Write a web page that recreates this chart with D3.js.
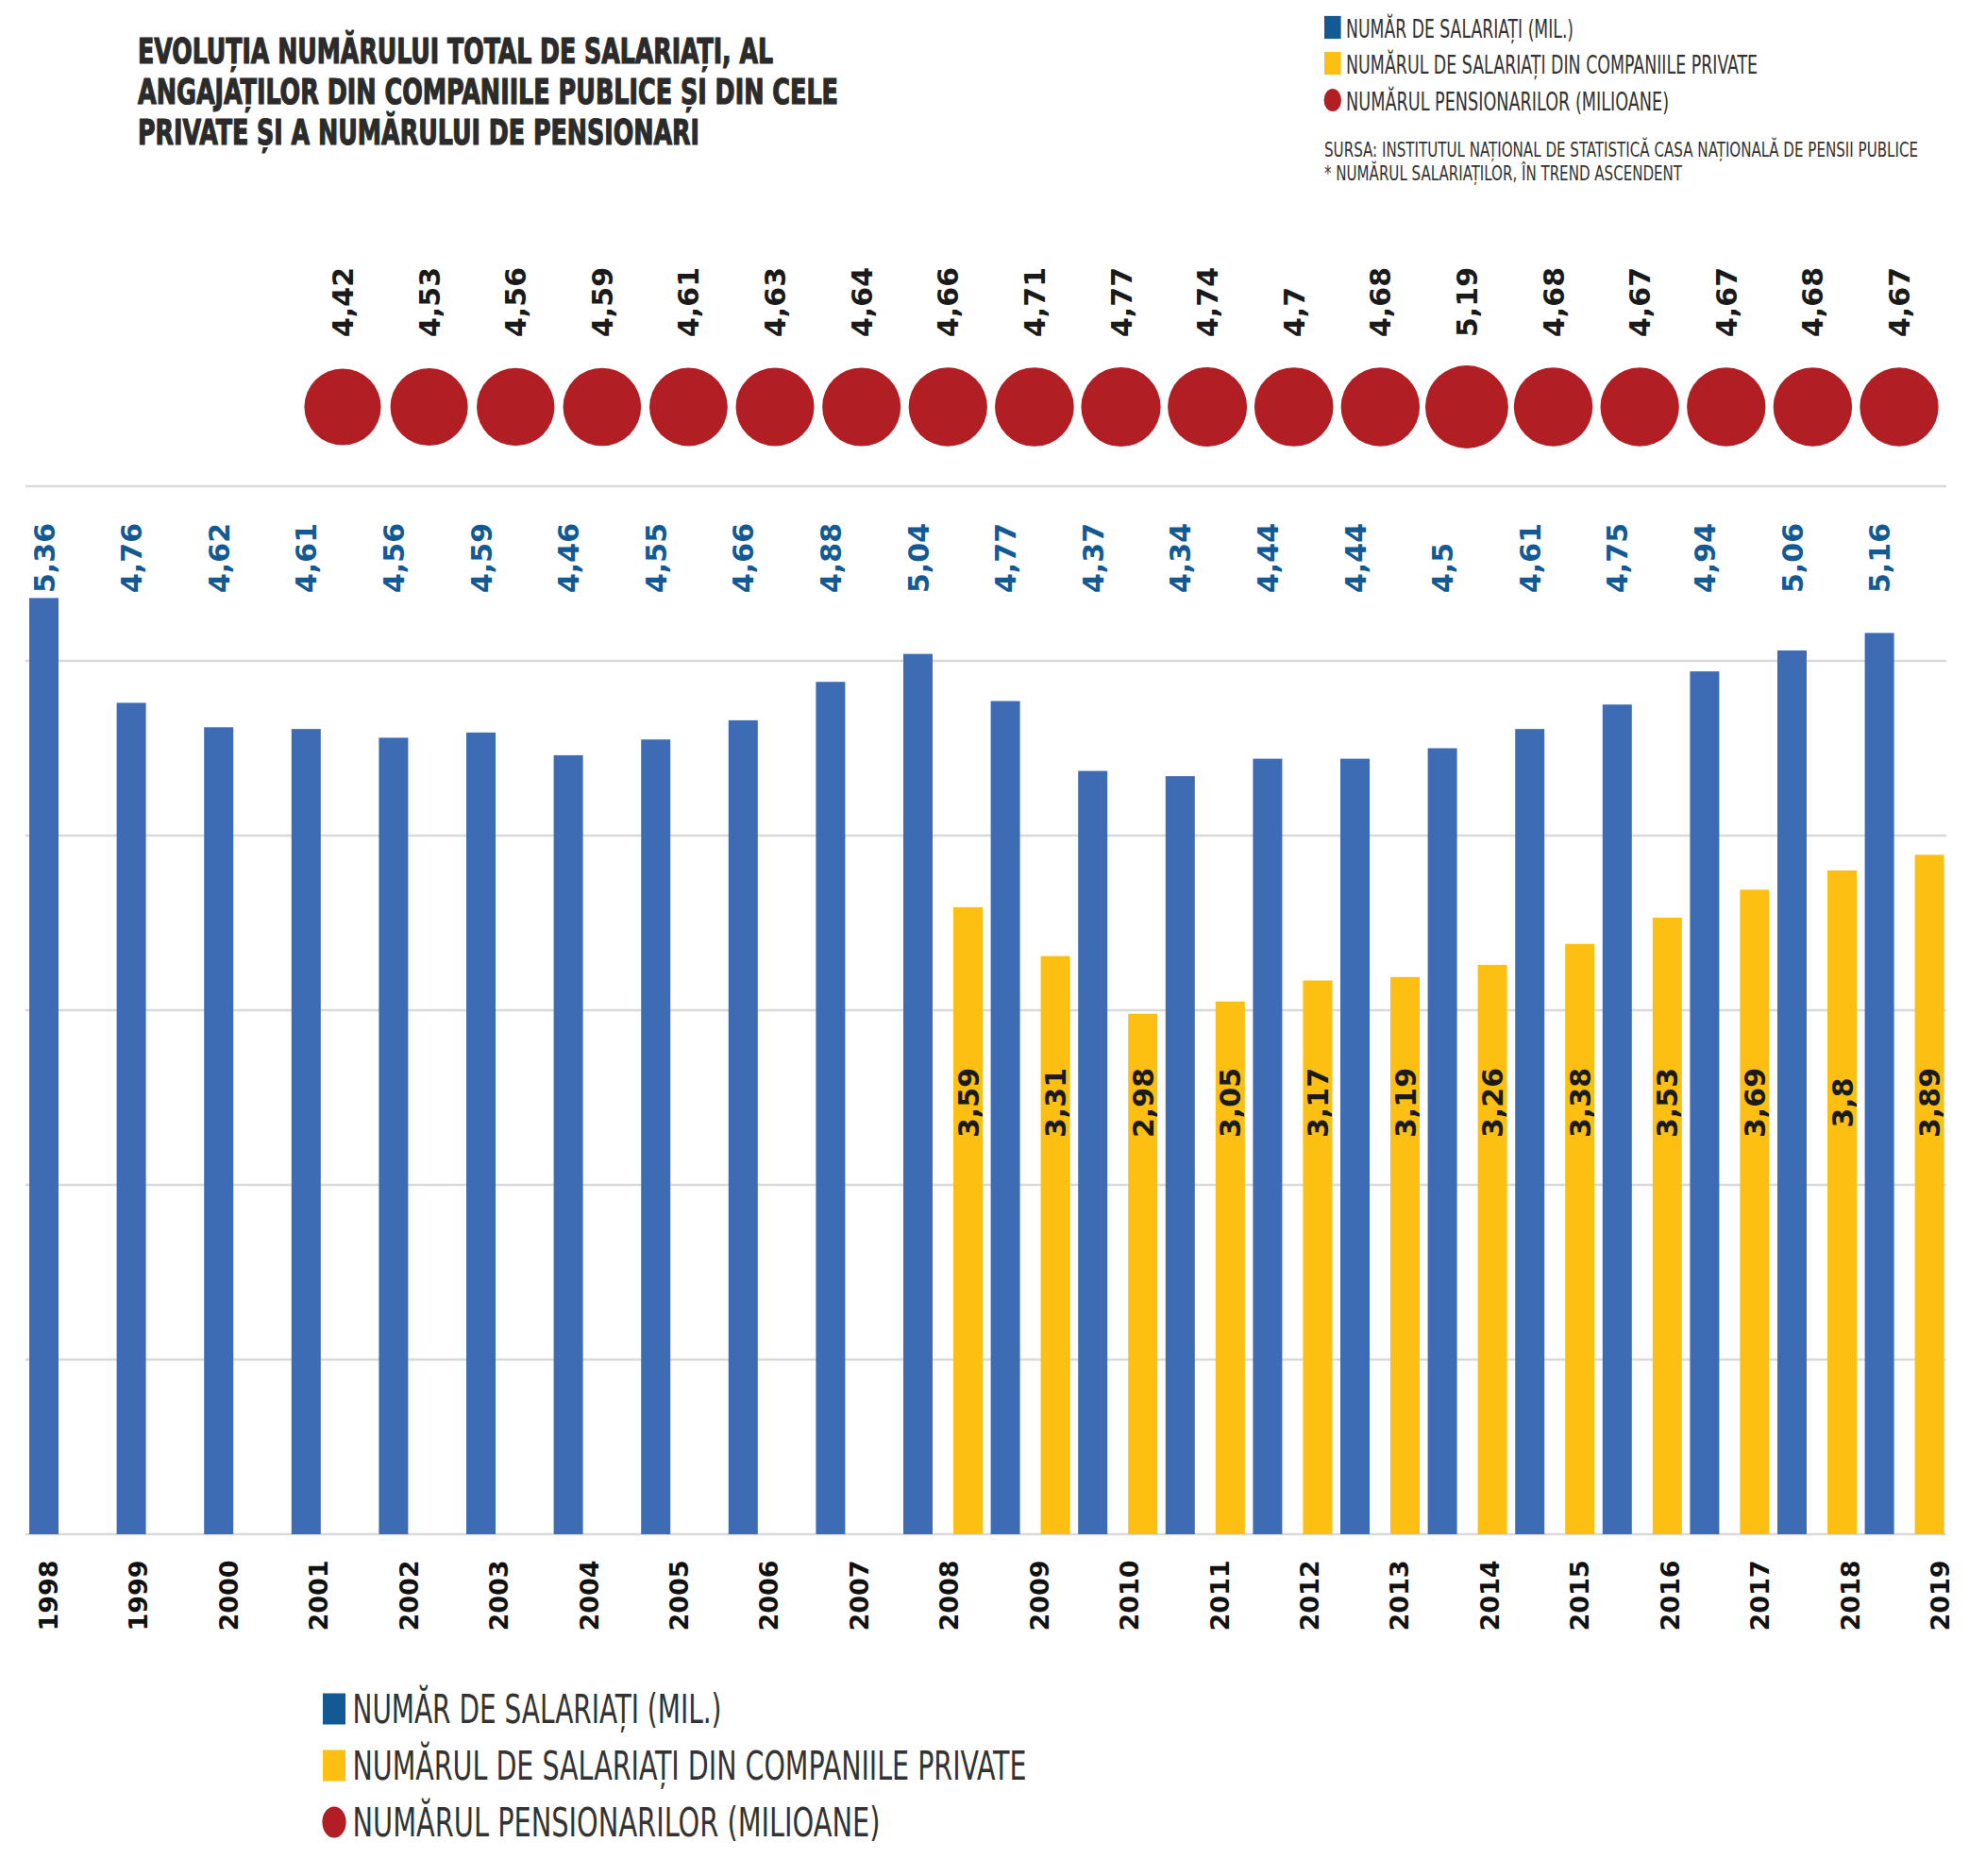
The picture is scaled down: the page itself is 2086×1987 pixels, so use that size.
<!DOCTYPE html>
<html>
<head>
<meta charset="utf-8">
<script src="https://cdn.jsdelivr.net/npm/d3@7"></script>
<style>
body { margin: 0; background: #fff; }
</style>
</head>
<body>
<div id="chart"></div>
<script>
// Data
const years = d3.range(1998, 2020);
const totalEmployees = [5.36, 4.76, 4.62, 4.61, 4.56, 4.59, 4.46, 4.55, 4.66, 4.88, 5.04,
    4.77, 4.37, 4.34, 4.44, 4.44, 4.5, 4.61, 4.75, 4.94, 5.06, 5.16];
const privateYears = d3.range(2008, 2020);
const privateEmployees = [3.59, 3.31, 2.98, 3.05, 3.17, 3.19, 3.26, 3.38, 3.53, 3.69, 3.8, 3.89];
const pensionYears = d3.range(2001, 2020);
const pensioners = [4.42, 4.53, 4.56, 4.59, 4.61, 4.63, 4.64, 4.66, 4.71, 4.77, 4.74, 4.7,
    4.68, 5.19, 4.68, 4.67, 4.67, 4.68, 4.67];
const gridTicks = [0, 1, 2, 3, 4, 5, 6];
const titleLines = ["EVOLUȚIA NUMĂRULUI TOTAL DE SALARIAȚI, AL",
    "ANGAJAȚILOR DIN COMPANIILE PUBLICE ȘI DIN CELE",
    "PRIVATE ȘI A NUMĂRULUI DE PENSIONARI"];
const legendLabels = ["NUMĂR DE SALARIAȚI (MIL.)",
    "NUMĂRUL DE SALARIAȚI DIN COMPANIILE PRIVATE",
    "NUMĂRUL PENSIONARILOR (MILIOANE)"];
const sourceLines = ["SURSA: INSTITUTUL NAȚIONAL DE STATISTICĂ  CASA NAȚIONALĂ DE PENSII PUBLICE",
    "* NUMĂRUL SALARIAȚILOR, ÎN TREND ASCENDENT"];

const W = 2086, H = 1987;
const BLUE = "#3d6bb4", YELLOW = "#fcbf12", RED = "#b11f24", LEGBLUE = "#135a94";
const NARROW = "'Liberation Sans Narrow', 'DejaVu Sans Condensed', sans-serif";

const svg = d3.select("#chart").append("svg")
    .attr("width", W).attr("height", H);

// Scales
const y = d3.scaleLinear().domain([0, 6]).range([1625, 515]);
const x = d3.scaleBand().domain(years).range([30, 30 + 22 * 92.6]);
const xTick = d3.scalePoint().domain(years).range([51, 2055]);
const xPension = d3.scalePoint().domain(pensionYears).range([363, 2012]);
const rScale = d3.scaleLinear().domain([4.4, 5.2]).range([40.5, 44]);
const barW = 31;

// Gridlines
svg.selectAll(".grid")
    .data(gridTicks)
    .join("line")
    .attr("class", "grid")
    .attr("x1", 27).attr("x2", 2062)
    .attr("y1", d => y(d)).attr("y2", d => y(d))
    .style("stroke", "#d9d9d9")
    .style("stroke-width", 2.5);

// Blue bars
svg.selectAll(".bar-total")
    .data(years.map((yr, i) => ({ yr, v: totalEmployees[i] })))
    .join("rect")
    .attr("class", "bar-total")
    .attr("x", d => x(d.yr) + 1)
    .attr("y", d => y(d.v))
    .attr("width", barW)
    .attr("height", d => y(0) - y(d.v))
    .style("fill", BLUE);

svg.selectAll(".label-total")
    .data(years.map((yr, i) => ({ yr, v: totalEmployees[i] })))
    .join("text")
    .attr("class", "label-total")
    .attr("transform", d => `translate(${x(d.yr) + 1 + barW / 2 + 11},628) rotate(-90)`)
    .style("font-family", "'DejaVu Sans', sans-serif")
    .style("font-weight", "bold")
    .style("font-size", "30px")
    .style("fill", LEGBLUE)
    .text(d => String(d.v).replace(".", ","));

// Yellow bars
const privData = privateYears.map((yr, i) => ({ yr, v: privateEmployees[i] }));
svg.selectAll(".bar-private")
    .data(privData)
    .join("rect")
    .attr("class", "bar-private")
    .attr("x", d => x(d.yr) + 54)
    .attr("y", d => y(d.v))
    .attr("width", barW)
    .attr("height", d => y(0) - y(d.v))
    .style("fill", YELLOW);

svg.selectAll(".label-private")
    .data(privData)
    .join("text")
    .attr("class", "label-private")
    .attr("transform", d => `translate(${x(d.yr) + 54 + barW / 2 + 11},1168) rotate(-90)`)
    .attr("text-anchor", "middle")
    .style("font-family", "'DejaVu Sans', sans-serif")
    .style("font-weight", "bold")
    .style("font-size", "30px")
    .style("fill", "#1a1a1a")
    .text(d => String(d.v).replace(".", ","));

// Pensioner circles
const pensData = pensionYears.map((yr, i) => ({ yr, v: pensioners[i] }));
svg.selectAll(".pension")
    .data(pensData)
    .join("circle")
    .attr("class", "pension")
    .attr("cx", d => xPension(d.yr))
    .attr("cy", 431)
    .attr("r", d => rScale(d.v))
    .style("fill", RED);

svg.selectAll(".label-pension")
    .data(pensData)
    .join("text")
    .attr("class", "label-pension")
    .attr("transform", d => `translate(${xPension(d.yr) + 11},357) rotate(-90)`)
    .style("font-family", "'DejaVu Sans', sans-serif")
    .style("font-weight", "bold")
    .style("font-size", "30px")
    .style("fill", "#1a1a1a")
    .text(d => String(d.v).replace(".", ","));

// Year axis
const axis = svg.append("g")
    .attr("transform", "translate(0,1690)")
    .call(d3.axisBottom(xTick).tickSize(0).tickPadding(0));
axis.select(".domain").remove();
axis.selectAll("text")
    .attr("transform", "rotate(-90)")
    .attr("x", 0).attr("y", 0).attr("dy", "0.35em")
    .attr("text-anchor", "middle")
    .style("font-family", "'DejaVu Sans', sans-serif")
    .style("font-weight", "bold")
    .style("font-size", "27px")
    .style("fill", "#111");

// Title
svg.selectAll(".title")
    .data(titleLines)
    .join("text")
    .attr("class", "title")
    .attr("x", 146)
    .attr("y", (d, i) => 67 + i * 43)
    .attr("textLength", (d, i) => [673, 742, 595][i])
    .attr("lengthAdjust", "spacingAndGlyphs")
    .style("font-family", NARROW)
    .style("font-weight", "bold")
    .style("font-size", "37px")
    .style("fill", "#2b2b2b")
    .style("stroke", "#2b2b2b")
    .style("stroke-width", 1.2)
    .text(d => d);

// Legends
function drawLegend(x0, ys, size, fontSize, widths, cls) {
    const colors = [LEGBLUE, YELLOW, RED];
    const g = svg.append("g").attr("class", cls);
    legendLabels.forEach((label, i) => {
        if (i < 2) {
            g.append("rect")
                .attr("x", x0).attr("y", ys[i] - size * 1.05)
                .attr("width", size * 0.8).attr("height", size * 1.1)
                .style("fill", colors[i]);
        } else {
            g.append("ellipse")
                .attr("cx", x0 + size * 0.4).attr("cy", ys[i] - size * 0.5)
                .attr("rx", size * 0.42).attr("ry", size * 0.55)
                .style("fill", colors[i]);
        }
        g.append("text")
            .attr("x", x0 + size * 1.05)
            .attr("y", ys[i])
            .attr("textLength", widths[i])
            .attr("lengthAdjust", "spacingAndGlyphs")
            .style("font-family", NARROW)
            .style("font-size", fontSize + "px")
            .style("fill", "#333")
            .text(label);
    });
}
drawLegend(1403, [40, 78, 117], 22, 27, [241, 436, 342], "legend-top");
drawLegend(342, [1825, 1885, 1945], 30, 42, [391, 714, 559], "legend-bottom");

svg.selectAll(".source")
    .data(sourceLines)
    .join("text")
    .attr("class", "source")
    .attr("x", 1403)
    .attr("y", (d, i) => 166 + i * 25)
    .attr("textLength", (d, i) => [629, 379][i])
    .attr("lengthAdjust", "spacingAndGlyphs")
    .style("font-family", NARROW)
    .style("font-size", "22px")
    .style("fill", "#333")
    .text(d => d);
</script>
</body>
</html>
